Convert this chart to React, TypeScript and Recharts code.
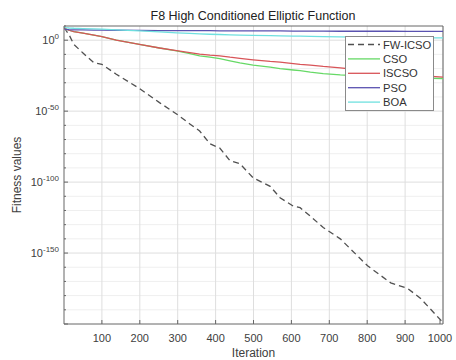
import React from 'react';
import { LineChart, Line, XAxis, YAxis, CartesianGrid, ReferenceLine, Customized } from 'recharts';

const ITER = [1,5,13,26,50,79,100,138,199,252,297,332,358,385,411,438,464,499,544,570,605,623,650,684,729,782,801,862,907,941,1000];
// log10 of fitness values
const FW_ICSO = [9,7,4,-3,-9,-16,-17,-24,-34,-44,-52,-59,-64,-73,-76,-85,-87,-97,-103,-111,-117,-118,-124,-132,-140,-154,-159,-171,-175,-182,-199];
const CSO = [8.5,8,7,6,5,3.5,2.5,0,-3,-5.5,-7.5,-9.5,-11,-12,-13,-14.5,-16,-17.5,-19,-20,-21,-21.5,-22.5,-23.5,-24.5,-25.3,-25.6,-26,-26.4,-26.7,-27];
const ISCSO = [8.5,8,7,6,5,3.5,2.5,0,-3,-5.5,-7.3,-8.8,-9.8,-10.5,-11,-12,-12.8,-13.8,-15,-15.5,-16.5,-17,-17.5,-18.5,-19.5,-21,-21.5,-23,-24.3,-25,-26];
const PSO = [8,7.6,7.4,7.3,7.2,7.1,7.1,7,6.9,6.8,6.8,6.7,6.7,6.7,6.6,6.6,6.6,6.5,6.5,6.5,6.4,6.4,6.4,6.4,6.3,6.3,6.3,6.3,6.2,6.2,6.2];
const BOA = [9,8.8,8.6,8.4,8.2,8,7.8,7.3,6.6,5.8,5.2,4.8,4.5,4.2,4,3.8,3.6,3.4,3.2,3.1,2.9,2.8,2.7,2.5,2.3,2.1,2.0,1.9,1.8,1.7,1.6];

const X_TICKS = [100,200,300,400,500,600,700,800,900,1000];
const Y_TICKS = [-200,-190,-180,-170,-160,-150,-140,-130,-120,-110,-100,-90,-80,-70,-60,-50,-40,-30,-20,-10,0,10];
const Y_MAJOR = [-150,-100,-50,0];
const Y_MINOR = [-190,-180,-170,-160,-140,-130,-120,-110,-90,-80,-70,-60,-40,-30,-20,-10];

const SERIES = [
  { key: 'FW-ICSO', values: FW_ICSO, color: '#505050', dash: '6 4' },
  { key: 'CSO', values: CSO, color: '#66d966', dash: undefined },
  { key: 'ISCSO', values: ISCSO, color: '#d85458', dash: undefined },
  { key: 'PSO', values: PSO, color: '#5a52b0', dash: undefined },
  { key: 'BOA', values: BOA, color: '#6fe0df', dash: undefined },
];

const data = ITER.map((it, i) => {
  const row: any = { it };
  SERIES.forEach((s) => { row[s.key] = s.values[i]; });
  return row;
});

const FONT = '"Liberation Sans", Arial, sans-serif';
const TXT = '#404040';
const AXIS = '#666666';

const XTick = (props: any) => {
  const { x, y, payload } = props;
  return (
    <g>
      <line x1={x} y1={y} x2={x} y2={y - 4} stroke={AXIS} />
      <text x={x} y={y + 18} textAnchor="middle" fontSize={11} fill={TXT} fontFamily={FONT}>{payload.value}</text>
    </g>
  );
};

const YTick = (props: any) => {
  const { x, y, payload } = props;
  const v = payload.value;
  const major = v % 50 === 0;
  return (
    <g>
      <line x1={x} y1={y} x2={x + (major ? 4 : 2)} y2={y} stroke={AXIS} />
      {major && v >= -150 && v <= 0 ? (
        <text x={x - 5} y={y + 4} textAnchor="end" fontSize={11} fill={TXT} fontFamily={FONT}>
          10<tspan dy={-5} fontSize={8}>{String(v)}</tspan>
        </text>
      ) : null}
    </g>
  );
};

const LegendBox = () => {
  const w = 88, h = 74, step = 14.4, first = 8.5;
  return (
    <svg width={w + 1} height={h + 1} style={{ display: 'block' }}>
      <rect x={0.5} y={0.5} width={w} height={h} fill="#fff" stroke="#8a8a8a" />
      {SERIES.map((s, i) => (
        <g key={s.key}>
          <line x1={3} y1={first + i * step} x2={35} y2={first + i * step} stroke={s.color} strokeWidth={1.3} strokeDasharray={s.dash} />
          <text x={38} y={first + i * step + 4} fontSize={11.2} fill="#333" fontFamily={FONT}>{s.key}</text>
        </g>
      ))}
    </svg>
  );
};

const Title = () => (
  <text x={253} y={20} textAnchor="middle" fontSize={12.5} fill="#222" fontFamily={FONT}>
    F8 High Conditioned Elliptic Function
  </text>
);

export default function App() {
  return (
    <div style={{ position: 'absolute', left: 0, top: 0, width: 456, height: 360, background: '#fff' }}>
      <LineChart width={456} height={360} data={data} margin={{ top: 26, right: 13, bottom: 0, left: 0 }}>
        <CartesianGrid horizontal={true} vertical={false} horizontalValues={Y_MINOR} stroke="#efefef" />
        <CartesianGrid horizontalValues={Y_MAJOR} verticalValues={X_TICKS} stroke="#dedede" />
        <XAxis
          dataKey="it"
          type="number"
          domain={[0, 1000]}
          ticks={X_TICKS}
          tick={<XTick />}
          tickSize={0}
          tickMargin={0}
          height={36}
          stroke={AXIS}
          label={{ value: 'Iteration', position: 'insideBottom', offset: 3, fontSize: 12, fill: TXT, fontFamily: FONT }}
        />
        <YAxis
          type="number"
          domain={[-200, 10]}
          ticks={Y_TICKS}
          interval={0}
          tick={<YTick />}
          tickSize={0}
          tickMargin={0}
          width={64}
          stroke={AXIS}
          label={{ value: 'Fitness values', angle: -90, position: 'insideLeft', offset: 17, fontSize: 12, fill: TXT, fontFamily: FONT, style: { textAnchor: 'middle' } }}
        />
        <ReferenceLine x={1000} stroke={AXIS} />
        <ReferenceLine y={10} stroke={AXIS} />
        {SERIES.map((s) => (
          <Line
            key={s.key}
            dataKey={s.key}
            stroke={s.color}
            strokeWidth={1.3}
            strokeDasharray={s.dash}
            dot={false}
            type="linear"
            isAnimationActive={false}
          />
        ))}
        <Customized component={Title} />
      </LineChart>
      <div style={{ position: 'absolute', left: 345, top: 36 }}>
        <LegendBox />
      </div>
    </div>
  );
}
